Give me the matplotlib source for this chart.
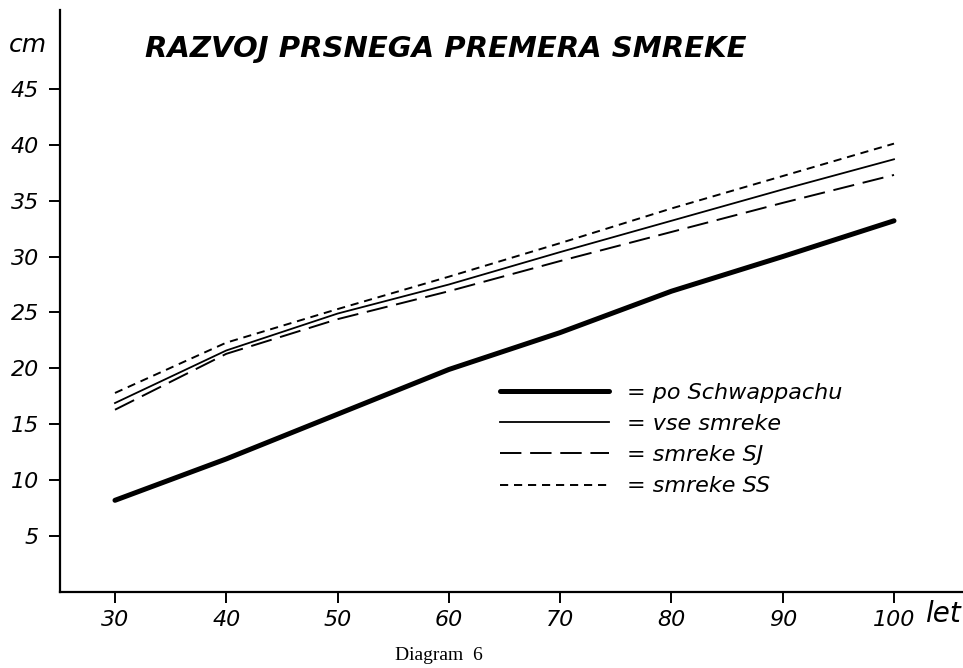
"""
Razvoj prsnega premera smreke - diagram 6.
Four growth curves of breast-height diameter vs. age.
"""
import matplotlib
matplotlib.use('Agg')
import matplotlib.pyplot as plt

# age in years
age = [30, 40, 50, 60, 70, 80, 90, 100]

# diameter in cm
po_schwappachu = [8.2, 11.9, 15.9, 19.9, 23.2, 26.9, 30.0, 33.2]
vse_smreke = [16.9, 21.6, 24.9, 27.5, 30.4, 33.2, 36.0, 38.7]
smreke_sj = [16.3, 21.3, 24.4, 26.9, 29.6, 32.2, 34.8, 37.3]
smreke_ss = [17.8, 22.3, 25.3, 28.2, 31.2, 34.3, 37.2, 40.1]

labels = ['= po Schwappachu', '= vse smreke', '= smreke SJ', '= smreke SS']
xticks = [30, 40, 50, 60, 70, 80, 90, 100]
yticks = [5, 10, 15, 20, 25, 30, 35, 40, 45]

hand = ['DejaVu Sans']

fig = plt.figure(figsize=(9.63, 6.68), dpi=100)
ax = fig.add_axes([60 / 963, 1 - 592 / 668, 1 - 60 / 963, (592 - 10) / 668])

ax.plot(age, po_schwappachu, color='black', lw=3.6, solid_capstyle='round',
        label=labels[0])
ax.plot(age, vse_smreke, color='black', lw=1.3, label=labels[1])
ax.plot(age, smreke_sj, color='black', lw=1.4, linestyle=(0, (11, 4.5)),
        label=labels[2])
ax.plot(age, smreke_ss, color='black', lw=1.4, linestyle=(0, (4.2, 3.0)),
        label=labels[3])

ax.set_xlim(25.06, 106.2)
ax.set_ylim(0, 52.05)
ax.spines['top'].set_visible(False)
ax.spines['right'].set_visible(False)
ax.spines['left'].set_linewidth(1.6)
ax.spines['bottom'].set_linewidth(1.6)

ax.set_xticks(xticks)
ax.set_yticks(yticks)
ax.tick_params(axis='both', direction='out', length=8, width=1.4,
               labelsize=16)
ax.tick_params(axis='x', pad=5)
ax.tick_params(axis='y', pad=7)
for lab in ax.get_xticklabels() + ax.get_yticklabels():
    lab.set_fontstyle('italic')
    lab.set_family(hand)

leg = ax.legend(loc='upper left', bbox_to_anchor=(500 / 963, 1 - 383 / 668),
                bbox_transform=fig.transFigure, frameon=False,
                handlelength=4.9, handletextpad=0.8, labelspacing=0.5,
                borderpad=0, borderaxespad=0,
                prop={'family': hand, 'style': 'italic', 'size': 16})

fig.text(145 / 963, 1 - 49 / 668, 'RAZVOJ PRSNEGA PREMERA SMREKE',
         fontsize=21, fontweight='bold', fontstyle='italic',
         family=hand, ha='left', va='center')
fig.text(28 / 963, 1 - 45 / 668, 'cm', fontsize=18, fontstyle='italic',
         family=hand, ha='center', va='center')
fig.text(943 / 963, 1 - 614 / 668, 'let', fontsize=20, fontstyle='italic',
         family=hand, ha='center', va='center')
fig.text(439 / 963, 1 - 655 / 668, 'Diagram  6', fontsize=14,
         family=['Liberation Serif', 'DejaVu Serif'], ha='center', va='center')

fig.savefig('out.png', dpi=100)
